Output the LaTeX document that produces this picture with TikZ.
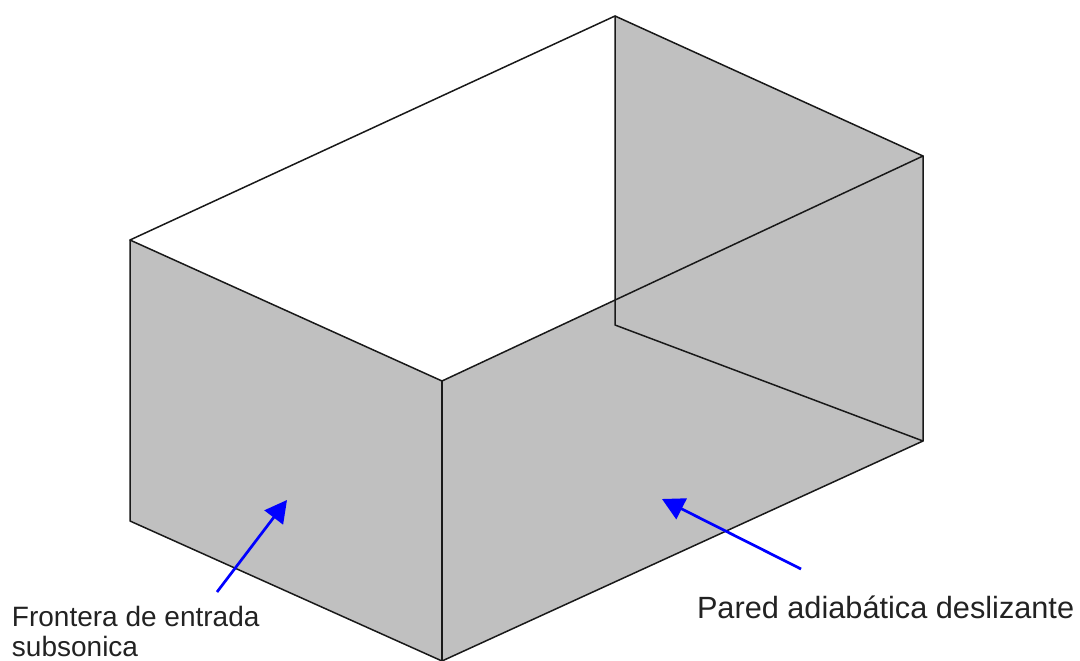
\documentclass[tikz,border=0pt]{standalone}
\usepackage{fontspec}
\setmainfont{Liberation Sans}
\usetikzlibrary{arrows.meta}
\definecolor{facegrey}{HTML}{C0C0C0}
\definecolor{labelink}{HTML}{222222}
\tikzset{
  edge/.style={draw=black!90,line width=1.5pt,line cap=round,line join=round},
  face/.style={fill=facegrey,draw=none},
  pointer/.style={draw=blue,line width=2.7pt,-{Triangle[length=22pt,width=23pt]}},
  labeltext/.style={inner sep=0pt,outer sep=0pt,text=labelink,font=\fontsize{28}{32}\selectfont,anchor=base west},
  walltext/.style={labeltext,font=\fontsize{30.7}{34}\selectfont}
}
\begin{document}
\begin{tikzpicture}[x=1pt,y=-1pt]
\useasboundingbox (0,0) rectangle (1080,661);
\coordinate (A) at (130,240);
\coordinate (B) at (615,16);
\coordinate (C) at (923,156);
\coordinate (D) at (442,381);
\coordinate (E) at (130,521);
\coordinate (F) at (442,661);
\coordinate (G) at (923,441);
\coordinate (H) at (615,325);
\coordinate (X) at (615,300.5);
\fill[face] (A) -- (D) -- (X) -- (B) -- (C) -- (G) -- (F) -- (E) -- cycle;
\draw[edge] (A) -- (B) -- (C) -- (D) -- cycle;
\draw[edge] (A) -- (E) -- (F) -- (G) -- (C);
\draw[edge] (D) -- (F);
\draw[edge] (B) -- (H) -- (G);
\node[labeltext] (front) at (12,626) {Frontera de entrada};
\node[labeltext] (subs) at (12,656.5) {subsonica};
\node[walltext] (wall) at (697,618) {Pared adiabática deslizante};
\coordinate (p1s) at (217,592);
\coordinate (p1e) at (287,500);
\coordinate (p2s) at (801,569);
\coordinate (p2e) at (662,499);
\draw[pointer] (p1s) -- (p1e);
\draw[pointer] (p2s) -- (p2e);
\end{tikzpicture}
\end{document}
